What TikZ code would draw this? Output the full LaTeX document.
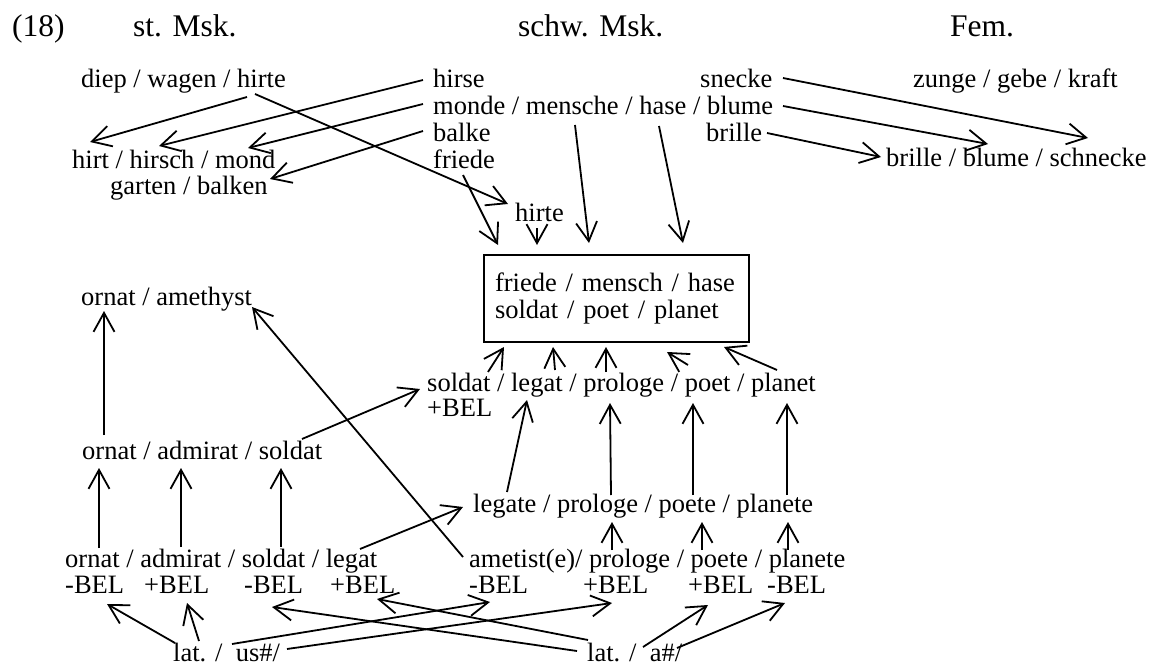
\documentclass[tikz,border=0pt]{standalone}
\usepackage{fontspec}
\setmainfont{Liberation Serif}
\usetikzlibrary{arrows.meta,calc}

\begin{document}
\begin{tikzpicture}[
    x=1pt, y=-1pt,
    head/.style={anchor=base west, inner sep=0pt, font=\fontsize{31.5}{34}\selectfont},
    word/.style={anchor=base west, inner sep=0pt, font=\fontsize{26.5}{27}\selectfont},
    box/.style={rectangle, draw, line width=2.5pt, minimum width=265pt, minimum height=87pt, inner sep=0pt, outer sep=0pt, text width=243pt, align=left, font=\fontsize{26.5}{27}\selectfont},
    arrow/.style={-{Straight Barb[length=19pt,width=21pt]}, line width=1.8pt}
]
\useasboundingbox (0,0) rectangle (1152,666);

% Headings
\node[head] (num) at (12,37) {(18)};
\node[head] (stmsk) at (133,37) {st. Msk.};
\node[head] (schwmsk) at (518,37) {schw. Msk.};
\node[head] (femhd) at (950,37) {Fem.};

% Top nodes
\node[word] (diep) at (81,88) {diep / wagen / hirte};
\node[word] (hirse) at (433,88) {hirse};
\node[word] (monde) at (433,115) {monde / mensche / hase / blume};
\node[word] (balke) at (433,142) {balke};
\node[word] (friede) at (433,168) {friede};
\node[word] (snecke) at (700,88) {snecke};
\node[word] (brille) at (706,142) {brille};
\node[word] (zunge) at (913,88) {zunge / gebe / kraft};
\node[word] (hirt) at (72,168) {hirt / hirsch / mond};
\node[word] (garten) at (110,195) {garten / balken};
\node[word] (fem) at (886,167) {brille / blume / schnecke};
\node[word] (hirte) at (515,222) {hirte};

% Box
\node[box] (schwach) at (616.5,298.5) {friede / mensch / hase\\soldat / poet / planet};

% Lower nodes
\node[word] (amethyst) at (81,305) {ornat / amethyst};
\node[word] (soldat) at (427,391) {soldat / legat / prologe / poet / planet};
\node[word] (solbel) at (427,416) {+BEL};
\node[word] (admirat) at (82,459) {ornat / admirat / soldat};
\node[word] (legate) at (473,512) {legate / prologe / poete / planete};
\node[word] (ornat) at (65,567) {ornat / admirat / soldat / legat};
\node[word] (ametist) at (469,567) {ametist(e)/ prologe / poete / planete};
\node[word] (bela) at (65,593) {-BEL};
\node[word] (belb) at (144,593) {+BEL};
\node[word] (belc) at (244,593) {-BEL};
\node[word] (beld) at (330,593) {+BEL};
\node[word] (bele) at (469,593) {-BEL};
\node[word] (belf) at (583,593) {+BEL};
\node[word] (belg) at (688,593) {+BEL};
\node[word] (belh) at (767,593) {-BEL};
\node[word] (latus) at (173,661) {lat. /~~us\#/};
\node[word] (lata) at (587,661) {lat. /~~a\#/};

% Arrows, top
\draw[arrow] ($(diep.base west)+(166,9)$) -- ($(hirt.base west)+(18,-26)$);
\draw[arrow] ($(hirse.base west)+(-10,-8)$) -- ($(hirt.base west)+(87,-22)$);
\draw[arrow] ($(monde.base west)+(-10,-11)$) -- ($(hirt.base west)+(176,-20)$);
\draw[arrow] ($(balke.base west)+(-10,-11)$) -- ($(garten.base west)+(160,-16)$);
\draw[arrow] ($(diep.base west)+(174,6)$) -- ($(hirte.base west)+(-7,-18)$);
\draw[arrow] ($(friede.base west)+(30,7)$) -- ($(schwach.north west)+(14,-10)$);
\draw[arrow] ($(hirte.base west)+(22,6)$) -- ($(schwach.north west)+(53,-10)$);
\draw[arrow] ($(monde.base west)+(142,10)$) -- ($(schwach.north west)+(105,-12)$);
\draw[arrow] ($(monde.base west)+(226,11)$) -- ($(schwach.north west)+(199,-12)$);
\draw[arrow] ($(snecke.base west)+(83,-10)$) -- ($(fem.base west)+(202,-29)$);
\draw[arrow] ($(monde.base west)+(350,-9)$) -- ($(fem.base west)+(102,-23)$);
\draw[arrow] ($(brille.base west)+(61,-9)$) -- ($(fem.base west)+(-5,-10)$);

% Arrows into the box from below
\draw[arrow] ($(soldat.base west)+(61,-19)$) -- ($(schwach.south west)+(20,5)$);
\draw[arrow] ($(soldat.base west)+(128,-21)$) -- ($(schwach.south west)+(69,5)$);
\draw[arrow] ($(soldat.base west)+(179,-19)$) -- ($(schwach.south west)+(122,5)$);
\draw[arrow] ($(soldat.base west)+(261,-26)$) -- ($(schwach.south west)+(183,10)$);
\draw[arrow] ($(soldat.base west)+(350,-21)$) -- ($(schwach.south west)+(240,5)$);

% Arrows, left
\draw[arrow] ($(admirat.base west)+(22,-24)$) -- ($(amethyst.base west)+(23,6)$);
\draw[arrow] ($(ametist.base west)+(-6,-10)$) -- ($(amethyst.base west)+(171,2)$);
\draw[arrow] ($(admirat.base west)+(220,-20)$) -- ($(soldat.base west)+(-7,-2)$);
\draw[arrow] ($(ornat.base west)+(34,-19)$) -- ($(admirat.base west)+(17,9)$);
\draw[arrow] ($(ornat.base west)+(116,-20)$) -- ($(admirat.base west)+(99,9)$);
\draw[arrow] ($(ornat.base west)+(216,-20)$) -- ($(admirat.base west)+(199,9)$);
\draw[arrow] ($(ornat.base west)+(295,-18)$) -- ($(legate.base west)+(-10,-5)$);

% Arrows, right
\draw[arrow] ($(legate.base west)+(34,-20)$) -- ($(soldat.base west)+(100,9)$);
\draw[arrow] ($(legate.base west)+(138,-17)$) -- ($(soldat.base west)+(183,12)$);
\draw[arrow] ($(legate.base west)+(220,-17)$) -- ($(soldat.base west)+(266,12)$);
\draw[arrow] ($(legate.base west)+(314,-17)$) -- ($(soldat.base west)+(360,12)$);
\draw[arrow] ($(ametist.base west)+(143,-17)$) -- ($(legate.base west)+(139,10)$);
\draw[arrow] ($(ametist.base west)+(233,-17)$) -- ($(legate.base west)+(229,10)$);
\draw[arrow] ($(ametist.base west)+(319,-17)$) -- ($(legate.base west)+(315,10)$);

% Arrows from lat.
\draw[arrow] ($(latus.base west)+(2,-18)$) -- ($(bela.base west)+(42,11)$);
\draw[arrow] ($(latus.base west)+(26,-20)$) -- ($(belb.base west)+(43,10)$);
\draw[arrow] ($(latus.base west)+(59,-17)$) -- ($(bele.base west)+(21,9)$);
\draw[arrow] ($(latus.base west)+(114,-12)$) -- ($(belf.base west)+(29,10)$);
\draw[arrow] ($(lata.base west)+(-10,-10)$) -- ($(belc.base west)+(28,14)$);
\draw[arrow] ($(lata.base west)+(1,-21)$) -- ($(beld.base west)+(47,6)$);
\draw[arrow] ($(lata.base west)+(56,-14)$) -- ($(belg.base west)+(20,12)$);
\draw[arrow] ($(lata.base west)+(90,-13)$) -- ($(belh.base west)+(18,10)$);

\end{tikzpicture}
\end{document}
